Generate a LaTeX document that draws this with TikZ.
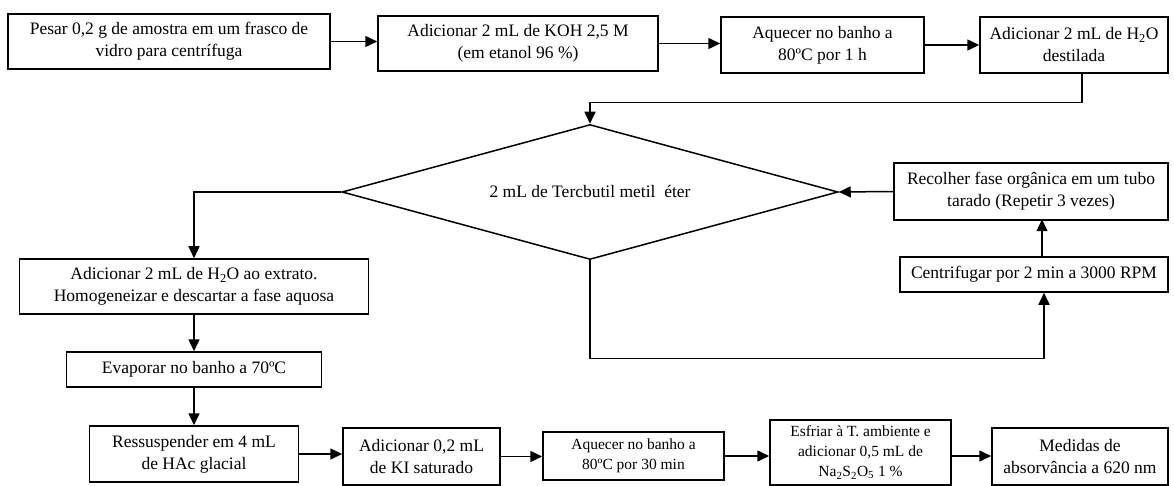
\documentclass[tikz,border=0pt]{standalone}
\usepackage{fontspec}
\setmainfont{Liberation Serif}
\usetikzlibrary{shapes.geometric,arrows.meta}

\begin{document}
\begin{tikzpicture}[x=1pt,y=-1pt,
  caixa/.style={draw,line width=1.5pt,align=center,inner sep=2pt,
    font=\fontsize{17.5}{22}\selectfont},
  menor/.style={font=\fontsize{15.5}{20}\selectfont},
  seta/.style={line width=1.5pt,-{Triangle[length=12pt,width=11pt]}}]
\useasboundingbox (0,0) rectangle (1174,486);
%top row
\node[caixa,minimum width=322pt,minimum height=55pt] (pesar) at (169,41.5)
  {Pesar 0,2 g de amostra em um frasco de\\vidro para centrífuga};
\node[caixa,minimum width=280pt,minimum height=55pt] (koh) at (518,43.5)
  {Adicionar 2 mL de KOH 2,5 M\\(em etanol 96 \%)};
\node[caixa,minimum width=203pt,minimum height=56pt] (banhoA) at (822.5,45)
  {Aquecer no banho a\\80ºC por 1 h};
\node[caixa,minimum width=188pt,minimum height=56pt] (agua) at (1074,45)
  {Adicionar 2 mL de H\textsubscript{2}O\\destilada};
%extraction
\node[caixa,shape=diamond,aspect=3.67,inner sep=0pt,minimum width=496pt,minimum height=135pt] (eter) at (590,192)
  {2 mL de Tercbutil metil\ \ éter};
\node[caixa,minimum width=274pt,minimum height=57pt] (recolher) at (1031,191.5)
  {Recolher fase orgânica em um tubo\\tarado (Repetir 3 vezes)};
\node[caixa,minimum width=268pt,minimum height=35pt] (centrif) at (1034,274.5)
  {Centrifugar por 2 min a 3000 RPM};
%left column
\node[caixa,minimum width=349pt,minimum height=55pt] (extrato) at (194,286.5)
  {Adicionar 2 mL de H\textsubscript{2}O ao extrato.\\Homogeneizar e descartar a fase aquosa};
\node[caixa,minimum width=255pt,minimum height=35pt] (evaporar) at (194,369.5)
  {Evaporar no banho a 70ºC};
%bottom row
\node[caixa,minimum width=209pt,minimum height=56pt] (ressusp) at (194,454)
  {Ressuspender em 4 mL\\de HAc glacial};
\node[caixa,minimum width=157pt,minimum height=57pt] (ki) at (421.5,456.5)
  {Adicionar 0,2 mL\\de KI saturado};
\node[caixa,menor,minimum width=181pt,minimum height=48pt] (banhoB) at (633.5,456)
  {Aquecer no banho a\\80ºC por 30 min};
\node[caixa,menor,minimum width=181pt,minimum height=65pt] (esfriar) at (860.5,452.5)
  {Esfriar à T. ambiente e\\adicionar 0,5 mL de\\Na\textsubscript{2}S\textsubscript{2}O\textsubscript{5} 1 \%};
\node[caixa,minimum width=176pt,minimum height=57pt] (medidas) at (1080,456.5)
  {Medidas de\\absorvância a 620 nm};
%draw arrows
\draw[seta] (pesar.east) -- (pesar.east -| koh.west);
\draw[seta] (koh.east) -- (koh.east -| banhoA.west);
\draw[seta] (banhoA.east) -- (agua.west);
\draw[seta] ([xshift=8pt]agua.south) -- ++(0,29) -| (eter.north);
\draw[seta] (eter.west) -| (extrato.north);
\draw[seta] (extrato.south) -- (evaporar.north);
\draw[seta] (evaporar.south) -- (ressusp.north);
\draw[seta] (ressusp.east) -- (ressusp.east -| ki.west);
\draw[seta] (ki.east) -- (ki.east -| banhoB.west);
\draw[seta] (banhoB.east) -- (esfriar.west |- banhoB.east);
\draw[seta] (banhoB.east -| esfriar.east) -- (banhoB.east -| medidas.west);
\draw[seta] (eter.south) -- ++(0,98) -| ([xshift=10pt]centrif.south);
\draw[seta] ([xshift=8pt]centrif.north) -- ++(0,-37);
\draw[seta] (recolher.west) -- (eter.east);
\end{tikzpicture}
\end{document}
